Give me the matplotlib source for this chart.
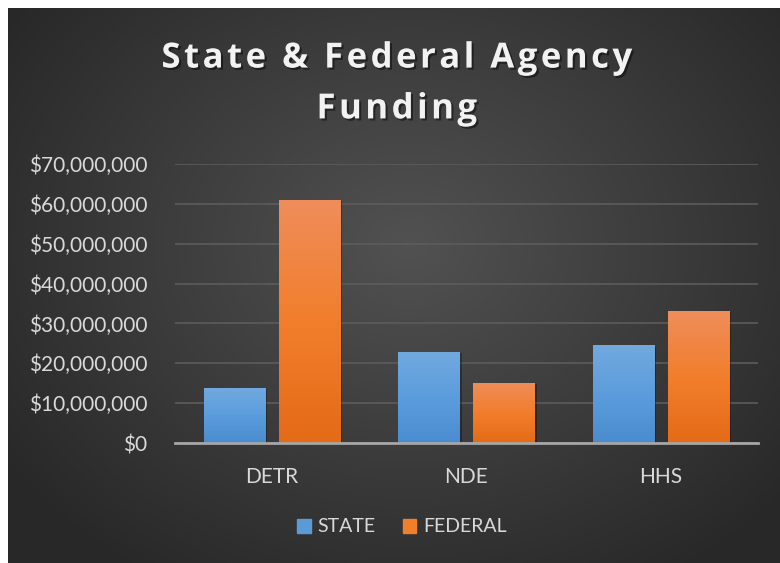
import numpy as np
import matplotlib
matplotlib.use("Agg")
import matplotlib.pyplot as plt
import matplotlib.patheffects as pe
from matplotlib.ticker import FuncFormatter
from matplotlib.patches import Rectangle
from matplotlib.colors import LinearSegmentedColormap

# data
agencies = ["DETR", "NDE", "HHS"]
state = [13.9e6, 22.9e6, 24.5e6]
federal = [61.0e6, 15.1e6, 33.1e6]
series_names = ["STATE", "FEDERAL"]
yticks = [0, 10e6, 20e6, 30e6, 40e6, 50e6, 60e6, 70e6]
title = "State & Federal Agency\nFunding"

plt.rcParams['font.family'] = ['Lato', 'DejaVu Sans']
txt = '#d9d9d9'

fig = plt.figure(figsize=(7.8, 5.63), dpi=100)
fig.patch.set_facecolor('white')

# dark panel with radial gradient
W, H = 780, 563
px0, py0 = 8, 8
bg = fig.add_axes([px0 / W, 0, 1 - px0 / W, 1 - py0 / H])
yy, xx = np.mgrid[0:200, 0:280]
cx, cy = 145, 85
r = np.sqrt(((xx - cx) / 175.0) ** 2 + ((yy - cy) / 140.0) ** 2)
r = np.clip(r, 0, 1)
shade = 0.32 - 0.16 * r
bg.imshow(np.dstack([shade, shade, shade]), aspect='auto', extent=[0, 1, 0, 1])
bg.set_axis_off()

ax = fig.add_axes([175 / W, 1 - 443 / H, (758 - 175) / W, (443 - 164) / H])
ax.set_facecolor('none')

x = np.arange(len(agencies))
bw = 0.315
off = 0.193
blue_cmap = LinearSegmentedColormap.from_list('b', ['#4a8ccf', '#5b9ddc', '#72a9df'])
orange_cmap = LinearSegmentedColormap.from_list('o', ['#e46b17', '#f27e2c', '#ef8d5a'])
grad = np.linspace(0, 1, 100).reshape(-1, 1)

for vals, xs, cmap in [(state, x - off, blue_cmap), (federal, x + off, orange_cmap)]:
    bars = ax.bar(xs, vals, width=bw, color='none', zorder=3,
                  path_effects=[pe.SimplePatchShadow(offset=(1.5, -1), shadow_rgbFace='black', alpha=0.3),
                                pe.Normal()])
    for b in bars:
        bx, by = b.get_x(), b.get_y()
        im = ax.imshow(grad, cmap=cmap, origin='lower', aspect='auto',
                       extent=[bx, bx + b.get_width(), by, by + b.get_height()], zorder=4)
        im.set_clip_path(b)

ax.set_xlim(-0.5, 2.5)
ax.set_ylim(0, 70e6)
ax.set_yticks(yticks)
ax.yaxis.set_major_formatter(FuncFormatter(lambda v, p: "${:,.0f}".format(v)))
ax.set_xticks(x)
ax.set_xticklabels(agencies)
ax.tick_params(axis='both', length=0, colors=txt, labelsize=15)
ax.tick_params(axis='y', pad=20)
ax.tick_params(axis='x', pad=17)
ax.grid(axis='y', color='#5c5c5c', linewidth=1.2, zorder=0)
ax.set_axisbelow(True)
for s in ['top', 'right', 'left']:
    ax.spines[s].set_visible(False)
ax.spines['bottom'].set_color('#a6a6a6')
ax.spines['bottom'].set_linewidth(2)
ax.spines['bottom'].set_zorder(5)

# letter-spaced title
spaced = "\n".join("\u200a".join(line) for line in title.split("\n"))
fig.text(397 / W, 1 - 84 / H, spaced, ha='center', va='center',
         fontsize=25, fontweight='bold', color='#f2f2f2', linespacing=1.55,
         family=['Open Sans', 'DejaVu Sans'],
         path_effects=[pe.withSimplePatchShadow(offset=(1.5, -1.5), shadow_rgbFace='black', alpha=0.45)])

handles = [Rectangle((0, 0), 1, 1, color='#5b9bd5'), Rectangle((0, 0), 1, 1, color='#f07f2c')]
leg = fig.legend(handles, series_names, loc='center', bbox_to_anchor=(402 / W, 1 - 527 / H),
                 ncol=2, frameon=False, fontsize=14, handlelength=0.7, handleheight=0.7,
                 handletextpad=0.35, columnspacing=1.4, labelcolor=txt)

fig.savefig('out.png', dpi=100)
